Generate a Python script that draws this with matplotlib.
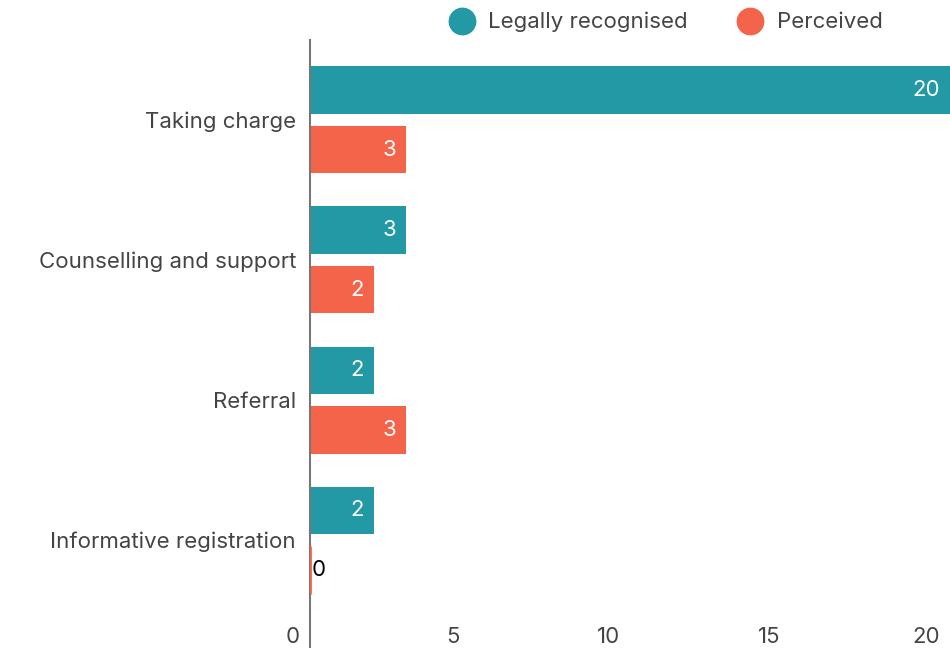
import numpy as np
import matplotlib.pyplot as plt
from matplotlib.lines import Line2D
from matplotlib.transforms import ScaledTranslation

plt.rcParams.update({
    "font.family": ["Inter", "DejaVu Sans"],
    "font.size": 16,
})

categories = ["Taking charge", "Counselling and support", "Referral", "Informative registration"]
legally = [20, 3, 2, 2]
perceived = [3, 2, 3, 0]
series_names = ["Legally recognised", "Perceived"]
x_ticks = [0, 5, 10, 15, 20]

TEAL = "#2399a6"
RED = "#f3644a"
TEXT = "#444444"
FS = 16

fig = plt.figure(figsize=(9.5, 6.48), dpi=100)
ax = fig.add_axes([310 / 950, 0, 640 / 950, 608 / 648])

y = np.arange(len(categories))
h = 0.336
off = 0.214

ax.barh(y - off, legally, height=h, color=TEAL)
ax.barh(y + off, perceived, height=h, color=RED)
# zero-length bars still show as a thin line
for i, v in enumerate(perceived):
    if v == 0:
        ax.barh(i + off, v, height=h, color=RED, edgecolor=RED, linewidth=2, zorder=3)

for vals, sgn in ((legally, -1), (perceived, 1)):
    for i, v in enumerate(vals):
        if v > 0:
            ax.annotate(str(v), xy=(v, i + sgn * off), xytext=(-7, 0),
                        textcoords="offset points", ha="right", va="center",
                        color="white", fontsize=FS)
        else:
            ax.annotate(str(v), xy=(v, i + sgn * off), xytext=(1, 0),
                        textcoords="offset points", ha="left", va="center",
                        color="black", fontsize=FS)

ax.set_xlim(0, 20)
ax.set_ylim(3.771, -0.571)
ax.set_yticks(y)
ax.set_yticklabels(categories, color=TEXT, fontsize=FS)
ax.set_xticks(x_ticks)
ax.set_xticklabels([str(t) for t in x_ticks], color=TEXT, fontsize=FS)
ax.tick_params(axis="y", length=0, pad=10)
ax.tick_params(axis="x", length=0, pad=-15)
shift = ScaledTranslation(-10 / 100, 0, fig.dpi_scale_trans)
for lab in ax.get_xticklabels():
    lab.set_ha("right")
    lab.set_transform(lab.get_transform() + shift)

for s in ["top", "right", "bottom"]:
    ax.spines[s].set_visible(False)
ax.spines["left"].set_color("#777777")
ax.spines["left"].set_linewidth(1.5)

handles = [Line2D([], [], marker="o", linestyle="none", markersize=19,
                  markerfacecolor=c, markeredgecolor=c)
           for c in (TEAL, RED)]
leg = fig.legend(handles, series_names, loc="center", bbox_to_anchor=(0.696, 0.966),
                 ncol=2, frameon=False, fontsize=FS, handletextpad=0.2,
                 columnspacing=1.8)
for t in leg.get_texts():
    t.set_color(TEXT)

fig.savefig("out.png", dpi=100)
